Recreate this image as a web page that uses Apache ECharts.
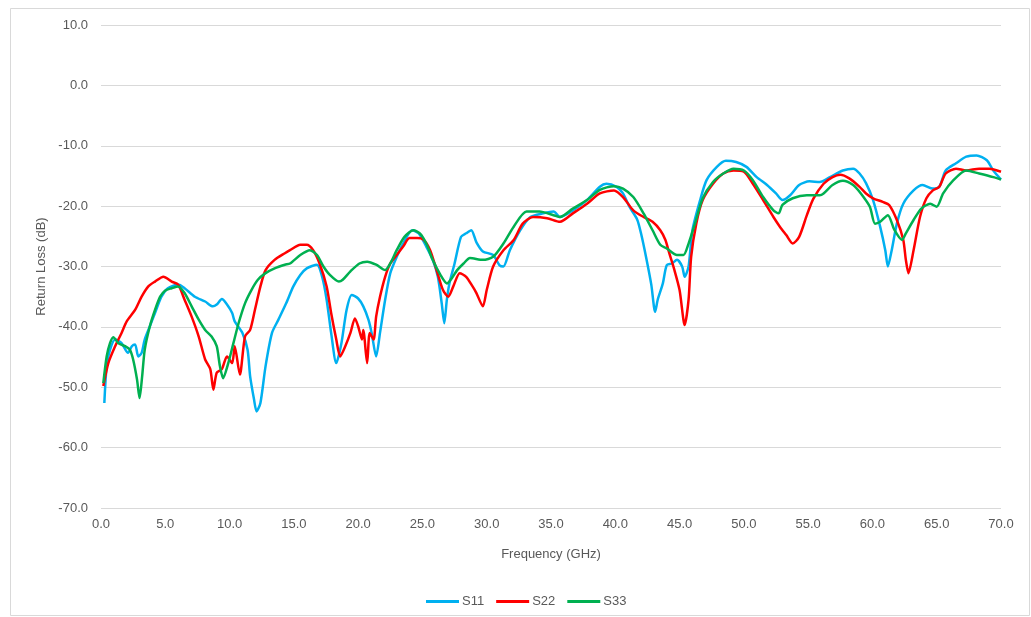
<!DOCTYPE html>
<html><head><meta charset="utf-8">
<script src="https://cdn.jsdelivr.net/npm/echarts@6/dist/echarts.min.js"></script>
<style>html,body{margin:0;padding:0;background:#fff}#c{width:1031px;height:617px}</style>
</head><body><div id="c"></div>
<script>
const xTicks = [0,5,10,15,20,25,30,35,40,45,50,55,60,65,70];
const yTicks = [-70,-60,-50,-40,-30,-20,-10,0,10];
const seriesNames = ['S11','S22','S33'];

const s11Freq = [0.26,0.44,0.7,1.1,1.6,2.1,2.4,2.65,2.9,3.16,3.4,3.8,4.2,4.7,5.2,6.0,6.5,7.3,8.1,8.7,9.0,9.4,9.8,10.2,10.4,11.0,11.4,11.6,11.9,12.1,12.4,12.8,13.3,13.8,14.4,14.96,15.5,16.0,16.8,17.2,17.55,17.9,18.3,18.7,19.1,19.5,20.0,20.4,20.8,21.05,21.4,21.7,22.1,22.5,23.0,23.5,24.2,24.7,25.3,25.8,26.2,26.5,26.7,26.9,27.1,27.5,28.0,28.4,28.8,29.2,29.7,30.5,31.0,31.3,31.8,32.6,33.4,34.4,35.2,35.7,36.7,37.8,38.8,39.3,40.1,40.6,41.1,41.7,42.0,42.4,42.8,43.1,43.3,43.7,44.0,44.4,44.8,45.2,45.4,45.7,46.0,46.6,47.1,47.9,48.6,49.4,50.2,51.0,51.8,52.5,53.0,53.6,54.3,55.1,55.9,56.7,57.7,58.5,59.0,59.5,60.05,60.6,61.0,61.2,61.5,61.9,62.4,63.2,63.9,64.7,65.2,65.7,66.5,67.3,68.1,68.9,69.4,70.0];
const s11Val = [-52.6,-46.5,-43.8,-42.1,-42.7,-44.3,-43.2,-42.9,-44.9,-44.3,-42.1,-39.9,-37.7,-35.0,-33.6,-33.0,-33.6,-35.0,-35.8,-36.6,-36.3,-35.4,-36.3,-37.7,-39.1,-41.0,-43.8,-48.2,-52.0,-54.0,-52.6,-46.5,-41.0,-38.8,-36.1,-33.3,-31.4,-30.3,-29.7,-31.7,-35.5,-41.0,-46.0,-42.7,-37.2,-34.7,-35.3,-36.6,-38.8,-41.0,-44.9,-41.0,-35.5,-31.1,-28.4,-26.2,-24.0,-24.5,-26.7,-28.9,-31.7,-36.1,-39.4,-35.5,-32.8,-29.5,-25.1,-24.5,-24.0,-26.0,-27.5,-28.1,-29.8,-30.0,-27.3,-24.0,-21.8,-21.2,-20.9,-21.8,-20.7,-19.0,-16.8,-16.3,-16.8,-17.9,-20.1,-22.2,-24.5,-28.5,-33.0,-37.5,-35.5,-32.8,-29.8,-29.5,-28.9,-30.0,-31.7,-30.0,-24.0,-19.0,-15.7,-13.5,-12.5,-12.7,-13.5,-15.2,-16.5,-17.9,-19.0,-18.2,-16.5,-15.9,-16.0,-15.2,-14.1,-13.8,-14.6,-16.2,-19.0,-23.4,-27.3,-30.0,-27.3,-22.9,-19.6,-17.4,-16.5,-17.1,-16.8,-14.1,-12.9,-11.8,-11.6,-12.4,-14.1,-15.6];

const s22Freq = [0.18,0.57,1.1,1.6,2.0,2.65,3.16,3.68,4.2,4.85,5.5,6.0,6.5,7.05,7.6,8.1,8.5,8.74,9.0,9.4,9.8,10.2,10.4,10.8,11.2,11.6,11.97,12.4,12.8,13.5,14.3,14.7,15.5,16.0,16.5,17.0,17.55,17.9,18.3,18.6,19.0,19.4,19.75,20.0,20.3,20.4,20.7,20.9,21.2,21.4,21.7,22.1,22.5,23.0,23.5,24.0,24.6,25.1,25.6,26.1,26.6,27.0,27.4,27.9,28.4,28.9,29.2,29.7,30.0,30.5,31.3,32.1,32.8,33.6,34.7,35.7,36.7,37.8,38.8,39.9,40.6,41.4,42.2,42.9,43.5,43.9,44.2,44.6,45.0,45.4,45.7,45.9,46.3,46.8,47.6,48.4,49.2,50.0,50.7,51.5,52.3,52.8,53.3,53.8,54.3,54.9,55.4,56.2,56.9,57.5,58.2,59.0,59.5,60.05,60.8,61.3,61.9,62.4,62.6,62.8,63.2,63.7,64.2,64.7,65.2,65.7,66.5,67.3,68.3,69.1,70.0];
const s22Val = [-49.8,-46.0,-43.2,-41.0,-39.1,-37.2,-35.0,-33.3,-32.5,-31.7,-32.5,-33.0,-35.5,-38.3,-41.6,-45.4,-47.0,-50.4,-47.6,-47.0,-44.9,-46.0,-43.2,-47.9,-41.6,-40.5,-37.2,-33.3,-30.6,-28.9,-27.8,-27.3,-26.4,-26.4,-27.3,-29.5,-33.3,-37.7,-42.1,-44.9,-43.2,-41.0,-38.6,-39.9,-42.1,-40.5,-46.0,-41.0,-42.1,-38.3,-35.0,-31.7,-29.5,-28.1,-26.7,-25.3,-25.3,-25.6,-27.3,-30.6,-33.9,-35.0,-33.3,-31.1,-31.7,-33.3,-34.4,-36.6,-33.9,-30.0,-27.3,-25.6,-22.9,-21.8,-22.0,-22.6,-21.2,-19.6,-17.9,-17.4,-18.5,-20.7,-21.8,-22.6,-24.0,-25.6,-27.8,-30.6,-33.9,-39.7,-35.5,-28.4,-22.9,-19.0,-16.3,-14.6,-14.1,-14.3,-16.3,-19.0,-21.8,-23.4,-24.8,-26.2,-25.1,-21.5,-18.8,-16.3,-15.2,-14.8,-15.4,-16.8,-17.9,-18.7,-19.3,-19.8,-22.3,-25.6,-28.9,-31.1,-27.3,-21.8,-18.7,-17.4,-16.8,-14.6,-13.8,-14.1,-13.8,-13.8,-14.3];

const s33Freq = [0.18,0.44,0.7,0.96,1.35,1.87,2.25,2.5,2.8,3.0,3.2,3.4,3.8,4.2,4.6,4.98,5.5,6.0,6.5,7.05,7.6,8.1,8.6,9.0,9.25,9.5,9.9,10.3,10.7,11.2,11.7,12.2,12.8,13.5,14.3,14.7,15.5,16.25,16.8,17.3,17.8,18.5,18.8,19.4,20.1,20.7,21.4,22.1,22.5,23.0,23.6,24.3,24.8,25.3,25.8,26.4,26.9,27.3,27.7,28.2,28.7,29.7,30.5,31.3,32.1,33.1,34.1,35.2,35.7,36.7,37.8,38.8,39.9,40.6,41.4,42.2,42.9,43.5,44.0,44.8,45.3,45.7,46.2,46.8,47.6,48.4,49.2,50.0,50.7,51.5,52.3,52.7,53.0,53.8,54.9,55.9,56.2,56.9,57.7,58.5,59.1,59.8,60.2,60.6,61.2,61.7,62.3,62.6,63.2,63.8,64.5,65.0,65.5,66.3,67.3,68.3,69.4,70.0];
const s33Val = [-49.3,-44.9,-42.7,-41.7,-42.7,-43.2,-43.8,-45.4,-48.7,-51.8,-48.2,-43.8,-39.9,-37.2,-35.0,-34.0,-33.6,-33.3,-34.4,-36.6,-38.8,-40.5,-41.6,-43.2,-46.5,-48.5,-46.0,-42.7,-39.4,-36.1,-33.9,-32.2,-31.1,-30.3,-29.7,-29.5,-28.1,-27.3,-28.1,-30.0,-31.4,-32.5,-32.2,-30.8,-29.5,-29.2,-29.7,-30.6,-29.5,-27.3,-25.1,-24.0,-24.5,-26.2,-28.9,-31.4,-32.8,-31.9,-30.6,-29.5,-28.6,-28.9,-28.4,-26.2,-23.4,-20.9,-20.9,-21.5,-21.8,-20.4,-19.0,-17.3,-16.7,-17.1,-18.5,-21.2,-24.0,-26.4,-27.0,-28.1,-28.1,-26.2,-22.9,-18.7,-16.0,-14.6,-13.8,-14.1,-15.7,-18.5,-20.7,-21.2,-19.8,-18.7,-18.2,-18.2,-17.9,-16.5,-15.8,-16.5,-17.9,-20.1,-22.9,-22.6,-21.5,-23.9,-25.6,-24.5,-22.3,-20.4,-19.6,-20.1,-17.9,-15.7,-14.1,-14.6,-15.2,-15.6];

const colors = ['#00b0f0','#ff0000','#00b050'];
const font = "'Liberation Sans', Arial, sans-serif";
function pairs(f, v){ return f.map((x,i)=>[x, v[i]]); }
const freqs = [s11Freq, s22Freq, s33Freq];
const vals = [s11Val, s22Val, s33Val];

const chart = echarts.init(document.getElementById('c'), null, {renderer:'canvas'});
chart.setOption({
  animation:false,
  backgroundColor:'#fff',
  graphic:[{type:'rect', shape:{x:10.5,y:8.5,width:1019,height:607}, style:{fill:'none', stroke:'#d9d9d9', lineWidth:1}, silent:true}],
  grid:{left:101, right:30, top:25, bottom:109},
  legend:{
    data:seriesNames, left:421, top:590, icon:'rect', itemWidth:33, itemHeight:3, itemGap:12,
    textStyle:{fontFamily:font, fontSize:13, color:'#595959', padding:[0,0,0,-2]}
  },
  xAxis:{
    type:'value', min:xTicks[0], max:xTicks[xTicks.length-1], interval:5,
    name:'Frequency (GHz)', nameLocation:'middle', nameGap:40,
    nameTextStyle:{fontFamily:font, fontSize:13, color:'#595959'},
    axisLine:{show:false}, axisTick:{show:false}, splitLine:{show:false},
    axisLabel:{fontFamily:font, fontSize:13, color:'#595959', margin:10, formatter:v=>v.toFixed(1)}
  },
  yAxis:{
    type:'value', min:yTicks[0], max:yTicks[yTicks.length-1], interval:10,
    name:'Return Loss (dB)', nameLocation:'middle', nameGap:52, nameRotate:90,
    nameTextStyle:{fontFamily:font, fontSize:13, color:'#595959'},
    axisLine:{show:false}, axisTick:{show:false},
    splitLine:{lineStyle:{color:'#d9d9d9', width:1}},
    axisLabel:{fontFamily:font, fontSize:13, color:'#595959', margin:13, formatter:v=>v.toFixed(1)}
  },
  series: seriesNames.map((n,i)=>({
    name:n, type:'line', data:pairs(freqs[i], vals[i]), symbol:'none', smooth:0.25,
    lineStyle:{color:colors[i], width:2.5}, itemStyle:{color:colors[i]}
  }))
});
</script></body></html>
